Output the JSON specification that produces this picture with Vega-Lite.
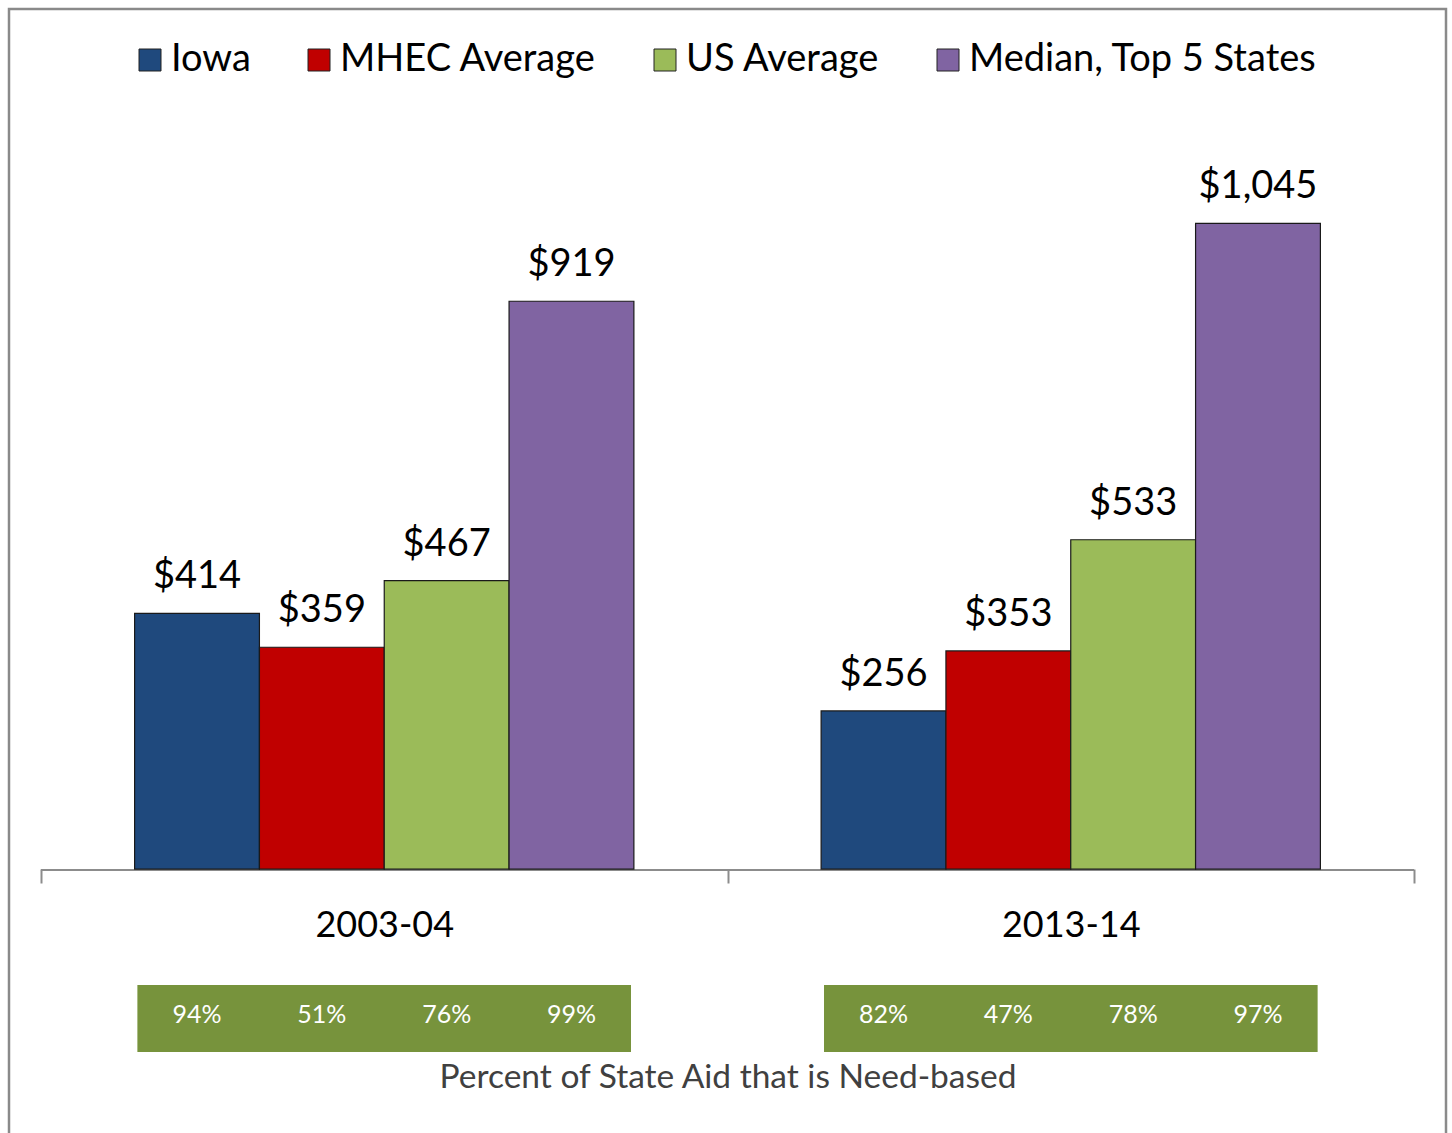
{
  "$schema": "https://vega.github.io/schema/vega-lite/v6.json",
  "width": 1437,
  "height": 1127,
  "autosize": "none",
  "padding": {"left": 9, "top": 9, "right": 6, "bottom": 0},
  "background": "white",
  "config": {
    "view": {"stroke": "#8a8a8a", "strokeWidth": 2.5},
    "font": "Lato"
  },
  "data": {
    "values": [
      {"year": "2003-04", "series": "Iowa", "value": 414, "pct": "94%"},
      {"year": "2003-04", "series": "MHEC Average", "value": 359, "pct": "51%"},
      {"year": "2003-04", "series": "US Average", "value": 467, "pct": "76%"},
      {"year": "2003-04", "series": "Median, Top 5 States", "value": 919, "pct": "99%"},
      {"year": "2013-14", "series": "Iowa", "value": 256, "pct": "82%"},
      {"year": "2013-14", "series": "MHEC Average", "value": 353, "pct": "47%"},
      {"year": "2013-14", "series": "US Average", "value": 533, "pct": "78%"},
      {"year": "2013-14", "series": "Median, Top 5 States", "value": 1045, "pct": "97%"}
    ]
  },
  "encoding": {
    "x": {
      "field": "year",
      "type": "nominal",
      "scale": {"paddingInner": 0, "paddingOuter": 0.0466},
      "axis": {
        "orient": "bottom",
        "offset": -267,
        "title": "Percent of State Aid that is Need-based",
        "titleFont": "Lato",
        "titleFontSize": 33.5,
        "titleFontWeight": "normal",
        "titleColor": "#404040",
        "titlePadding": 118,
        "labelAngle": 0,
        "labelFont": "Lato",
        "labelFontSize": 36,
        "labelColor": "#000000",
        "labelPadding": 25,
        "tickBand": "extent",
        "tickSize": 14,
        "tickColor": "#8c8c8c",
        "tickWidth": 2,
        "domain": false,
        "grid": false
      }
    },
    "y": {
      "field": "value",
      "type": "quantitative",
      "scale": {"domain": [-432, 1392], "nice": false, "zero": false},
      "axis": null
    }
  },
  "layer": [
    {
      "mark": {"type": "bar", "color": "#8c8c8c", "width": {"band": 1}},
      "encoding": {
        "y": {"datum": 0, "type": "quantitative"},
        "y2": {"datum": -3}
      }
    },
    {
      "mark": {"type": "bar", "stroke": "#1a1a1a", "strokeWidth": 1.2},
      "encoding": {
        "xOffset": {
          "field": "series",
          "type": "nominal",
          "sort": ["Iowa", "MHEC Average", "US Average", "Median, Top 5 States"],
          "scale": {"paddingInner": 0, "paddingOuter": 0.75}
        },
        "color": {
          "field": "series",
          "type": "nominal",
          "scale": {
            "domain": ["Iowa", "MHEC Average", "US Average", "Median, Top 5 States"],
            "range": ["#1F497D", "#C00000", "#9BBB59", "#8064A2"]
          },
          "legend": {
            "orient": "none",
            "legendX": 122,
            "legendY": 32,
            "direction": "horizontal",
            "title": null,
            "symbolType": "square",
            "symbolSize": 484,
            "symbolStrokeColor": "#222222",
            "symbolStrokeWidth": 1,
            "labelFont": "Lato",
            "labelFontSize": 38,
            "labelColor": "#000000",
            "labelOffset": 2,
            "columnPadding": 49,
            "padding": 0,
            "labelLimit": 600
          }
        }
      }
    },
    {
      "mark": {"type": "text", "baseline": "alphabetic", "dy": -25, "fontSize": 38, "font": "Lato", "color": "#000000"},
      "encoding": {
        "xOffset": {
          "field": "series",
          "type": "nominal",
          "sort": ["Iowa", "MHEC Average", "US Average", "Median, Top 5 States"],
          "scale": {"paddingInner": 0, "paddingOuter": 0.75}
        },
        "text": {"field": "value", "type": "quantitative", "format": "$,.0f"}
      }
    },
    {
      "mark": {"type": "bar", "color": "#77933C", "width": {"band": 0.718}},
      "encoding": {
        "y": {"datum": -187.5, "type": "quantitative"},
        "y2": {"datum": -296}
      }
    },
    {
      "mark": {"type": "text", "baseline": "middle", "fontSize": 25, "font": "Lato", "color": "#ffffff"},
      "encoding": {
        "xOffset": {
          "field": "series",
          "type": "nominal",
          "sort": ["Iowa", "MHEC Average", "US Average", "Median, Top 5 States"],
          "scale": {"paddingInner": 0, "paddingOuter": 0.75}
        },
        "y": {"datum": -236, "type": "quantitative"},
        "text": {"field": "pct", "type": "nominal"}
      }
    }
  ]
}
